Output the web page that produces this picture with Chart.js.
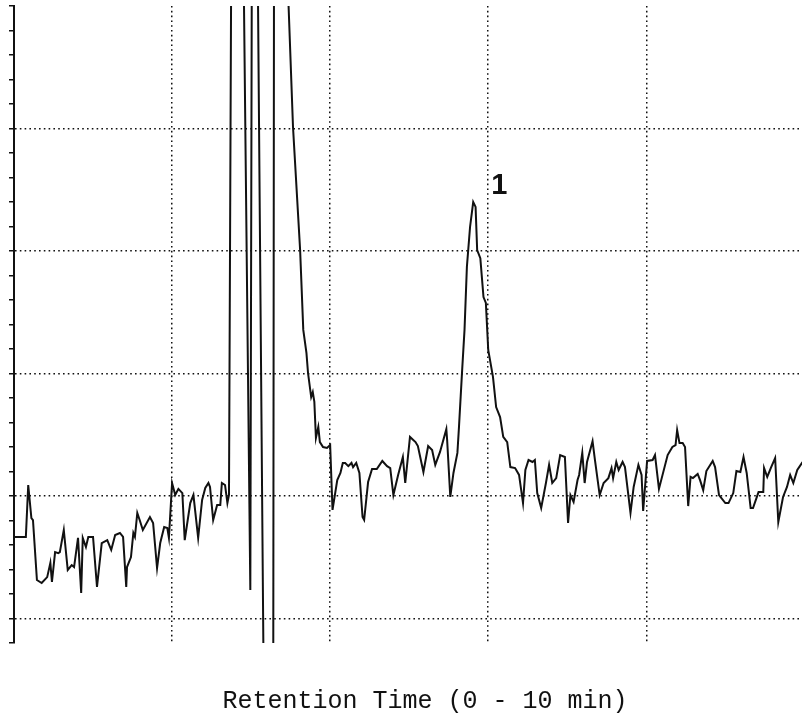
<!DOCTYPE html>
<html>
<head>
<meta charset="utf-8">
<script src="https://cdn.jsdelivr.net/npm/chart.js@4/dist/chart.umd.min.js"></script>
<style>
    html, body { margin: 0; padding: 0; background: #fff; overflow: hidden; }
    #holder { position: absolute; left: 0; top: 0; width: 836px; height: 719px; }
</style>
</head>
<body>
<div id="holder"><canvas id="ChartHolder"></canvas></div>
<script>
// retention time (min) and detector response
var times = [
    0, 0.15, 0.18, 0.22, 0.24, 0.29, 0.35, 0.42, 0.46, 0.48,
    0.52, 0.56, 0.58, 0.63, 0.68, 0.73, 0.76, 0.81, 0.85, 0.87,
    0.91, 0.94, 1.00, 1.05, 1.11, 1.18, 1.23, 1.28, 1.34, 1.38,
    1.42, 1.43, 1.48, 1.51, 1.53, 1.56, 1.59, 1.63, 1.72, 1.76,
    1.81, 1.85, 1.90, 1.94, 1.96, 2.00, 2.04, 2.08, 2.13, 2.16,
    2.23, 2.27, 2.33, 2.38, 2.42, 2.46, 2.48, 2.52, 2.57, 2.61,
    2.63, 2.67, 2.70, 2.72, 2.75, 2.90, 2.99, 3.01, 3.08, 3.16,
    3.28, 3.29, 3.44, 3.53, 3.62, 3.66, 3.70, 3.72, 3.76, 3.78,
    3.80, 3.82, 3.85, 3.87, 3.91, 3.96, 4.00, 4.03, 4.09, 4.13,
    4.16, 4.19, 4.23, 4.27, 4.29, 4.33, 4.37, 4.41, 4.43, 4.48,
    4.53, 4.59, 4.66, 4.72, 4.76, 4.80, 4.86, 4.92, 4.95, 5.01,
    5.08, 5.11, 5.18, 5.24, 5.29, 5.33, 5.39, 5.47, 5.48, 5.52,
    5.56, 5.61, 5.63, 5.67, 5.70, 5.73, 5.77, 5.81, 5.84, 5.86,
    5.90, 5.94, 5.97, 6.00, 6.06, 6.10, 6.15, 6.19, 6.24, 6.28,
    6.34, 6.39, 6.44, 6.47, 6.51, 6.56, 6.59, 6.62, 6.67, 6.73,
    6.77, 6.81, 6.86, 6.91, 6.97, 7.01, 7.04, 7.08, 7.13, 7.15,
    7.19, 7.22, 7.25, 7.32, 7.35, 7.41, 7.46, 7.52, 7.56, 7.58,
    7.62, 7.65, 7.70, 7.73, 7.80, 7.84, 7.90, 7.94, 7.96, 8.01,
    8.08, 8.11, 8.16, 8.27, 8.33, 8.37, 8.39, 8.42, 8.46, 8.49,
    8.53, 8.56, 8.59, 8.65, 8.68, 8.72, 8.76, 8.84, 8.87, 8.92,
    9.00, 9.04, 9.10, 9.14, 9.19, 9.23, 9.27, 9.32, 9.35, 9.42,
    9.48, 9.49, 9.53, 9.58, 9.63, 9.67, 9.73, 9.78, 9.82, 9.86,
    9.91, 9.97, 10.05
];

var signal = [
    3.33, 3.33, 5.45, 4.10, 4.02, 1.57, 1.45, 1.69, 2.27, 1.49,
    2.71, 2.67, 2.71, 3.61, 1.98, 2.18, 2.10, 3.29, 1.04, 3.29,
    2.92, 3.33, 3.33, 1.29, 3.08, 3.20, 2.80, 3.41, 3.49, 3.33,
    1.29, 2.10, 2.51, 3.49, 3.33, 4.31, 4.02, 3.61, 4.14, 3.90,
    2.06, 3.08, 3.73, 3.69, 3.29, 5.53, 5.04, 5.29, 5.12, 3.20,
    4.71, 5.04, 3.29, 4.84, 5.33, 5.53, 5.37, 4.02, 4.63, 4.63,
    5.53, 5.45, 4.71, 5.04, 28, 28, 1.16, 28, 28, -3,
    -3, 28, 28, 20.06, 15.04, 11.78, 10.84, 10.02, 9.04, 9.24,
    8.84, 7.37, 7.82, 7.20, 7.00, 6.96, 7.08, 4.43, 5.65, 5.94,
    6.35, 6.35, 6.22, 6.35, 6.18, 6.35, 5.94, 4.14, 4.02, 5.57,
    6.10, 6.10, 6.43, 6.22, 6.14, 5.04, 5.86, 6.59, 5.53, 7.41,
    7.20, 7.04, 5.98, 7.04, 6.88, 6.27, 6.80, 7.73, 7.29, 4.96,
    5.94, 6.76, 7.82, 10.14, 11.78, 14.35, 15.98, 17.00, 16.80, 15.04,
    14.71, 13.12, 12.88, 10.96, 9.86, 8.63, 8.22, 7.41, 7.20, 6.18,
    6.14, 5.86, 4.71, 6.06, 6.47, 6.39, 6.47, 5.12, 4.51, 5.53,
    6.27, 5.53, 5.73, 6.67, 6.59, 3.90, 5.04, 4.76, 5.65, 5.86,
    6.76, 5.53, 6.39, 7.24, 6.47, 5.04, 5.53, 5.73, 6.14, 5.73,
    6.39, 6.06, 6.39, 6.18, 4.31, 5.37, 6.27, 5.86, 4.39, 6.43,
    6.47, 6.67, 5.29, 6.67, 7.00, 7.08, 7.69, 7.16, 7.16, 7.00,
    4.59, 5.78, 5.73, 5.90, 5.65, 5.24, 6.02, 6.43, 6.18, 5.04,
    4.71, 4.71, 5.12, 6.02, 5.98, 6.59, 5.94, 4.51, 4.51, 5.16,
    5.16, 6.14, 5.78, 6.18, 6.55, 3.94, 4.96, 5.37, 5.86, 5.53,
    6.06, 6.35, 6.20
];

// numbered peaks
var peakNames = ['1'];
var peakTimes = [5.81];
var peakHeights = [17.0];

var axisTitle = 'Retention Time (0 - 10 min)';

var tracePoints = times.map(function (t, i) {
    return { x: t, y: signal[i] };
});

var peakLabelPlugin = {
    id: 'peakLabels',
    afterDatasetsDraw: function (chart) {
        var ctx = chart.ctx;
        var xs = chart.scales.x;
        var ys = chart.scales.y;
        ctx.save();
        ctx.fillStyle = '#111';
        ctx.font = 'bold 29px "Liberation Sans", Arial, sans-serif';
        ctx.textAlign = 'center';
        ctx.textBaseline = 'middle';
        for (var i = 0; i < peakNames.length; i++) {
            var px = xs.getPixelForValue(peakTimes[i]) + 26;
            var py = ys.getPixelForValue(peakHeights[i]) - 16;
            ctx.fillText(peakNames[i], px, py);
        }
        ctx.restore();
    }
};

var dotted = [1.6, 3.2];

var chartConfig = {
    type: 'scatter',
    data: {
        datasets: [{
            label: 'Signal',
            data: tracePoints,
            showLine: true,
            borderColor: '#111',
            borderWidth: 2,
            pointRadius: 0,
            tension: 0
        }]
    },
    options: {
        responsive: true,
        maintainAspectRatio: false,
        animation: false,
        layout: { padding: { left: 9, top: 6, right: 0, bottom: 0 } },
        plugins: {
            legend: { display: false },
            tooltip: { enabled: false }
        },
        scales: {
            x: {
                type: 'linear',
                min: 0,
                max: 10.4,
                ticks: { display: false, stepSize: 2 },
                grid: {
                    drawTicks: false,
                    lineWidth: 1.5,
                    color: function (c) {
                        var v = c.tick ? c.tick.value : 0;
                        return (v > 0 && v < 10 && v % 2 === 0) ? '#111' : 'rgba(0,0,0,0)';
                    }
                },
                border: { display: false, dash: dotted },
                title: {
                    display: true,
                    text: axisTitle,
                    color: '#111',
                    font: { family: '"Liberation Mono", "DejaVu Sans Mono", monospace', size: 25 },
                    padding: { top: 43, bottom: 3 }
                }
            },
            y: {
                type: 'linear',
                min: -1,
                max: 25,
                ticks: { display: false, stepSize: 1 },
                grid: {
                    drawTicks: true,
                    tickLength: 5,
                    tickWidth: 1.5,
                    tickColor: '#111',
                    lineWidth: 1.5,
                    color: function (c) {
                        var v = c.tick ? c.tick.value : -1;
                        return (v >= 0 && v <= 20 && v % 5 === 0) ? '#111' : 'rgba(0,0,0,0)';
                    }
                },
                border: { display: true, color: '#111', width: 2, dash: dotted }
            }
        }
    },
    plugins: [peakLabelPlugin]
};

var currentChart = new Chart(document.getElementById('ChartHolder'), chartConfig);
</script>
</body>
</html>
